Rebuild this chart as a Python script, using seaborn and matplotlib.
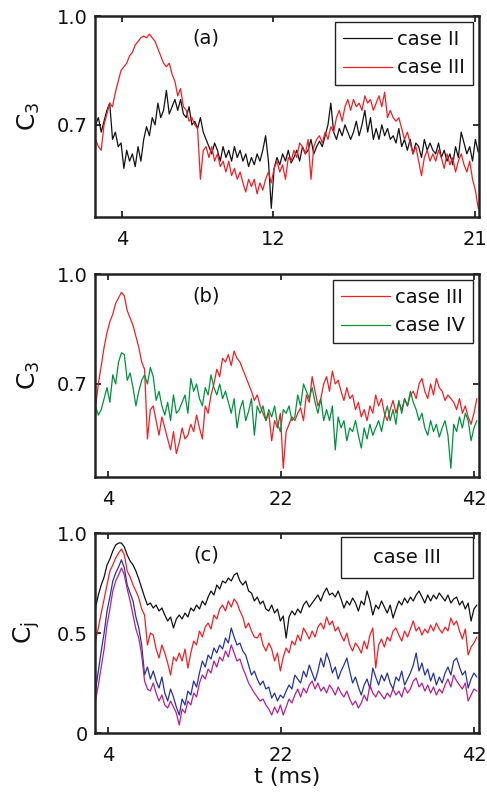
import numpy as np
import pandas as pd
import matplotlib
matplotlib.use("Agg")
import matplotlib.pyplot as plt
from matplotlib.patches import Rectangle
import seaborn as sns

# ---------------- data ----------------
# panel (a): sampled every 0.15 ms starting at 2.6 ms
T0_A, DT_A = 2.6, 0.15
a_case2 = [0.70, 0.72, 0.68, 0.71, 0.74, 0.76, 0.66, 0.68, 0.64, 0.65,
           0.58, 0.63, 0.60, 0.62, 0.585, 0.64, 0.60, 0.66, 0.695, 0.67,
           0.72, 0.70, 0.76, 0.72, 0.74, 0.795, 0.73, 0.75, 0.77, 0.74,
           0.77, 0.73, 0.72, 0.75, 0.70, 0.71, 0.69, 0.72, 0.68, 0.66,
           0.64, 0.62, 0.65, 0.63, 0.60, 0.64, 0.61, 0.63, 0.60, 0.64,
           0.61, 0.63, 0.60, 0.62, 0.585, 0.61, 0.59, 0.62, 0.60, 0.63,
           0.67, 0.60, 0.47, 0.58, 0.61, 0.59, 0.62, 0.60, 0.63, 0.595,
           0.61, 0.63, 0.60, 0.64, 0.62, 0.63, 0.66, 0.62, 0.64, 0.655,
           0.64, 0.67, 0.70, 0.76, 0.68, 0.66, 0.69, 0.67, 0.70, 0.68,
           0.66, 0.68, 0.71, 0.67, 0.70, 0.74, 0.68, 0.72, 0.66, 0.69,
           0.66, 0.70, 0.67, 0.69, 0.66, 0.67, 0.65, 0.69, 0.64, 0.66,
           0.63, 0.66, 0.62, 0.65, 0.64, 0.61, 0.66, 0.63, 0.65, 0.63,
           0.62, 0.65, 0.61, 0.63, 0.60, 0.62, 0.59, 0.64, 0.61, 0.68,
           0.65, 0.62, 0.64, 0.60, 0.66, 0.625]
a_case3 = [0.66, 0.64, 0.63, 0.70, 0.73, 0.76, 0.75, 0.79, 0.82, 0.85,
           0.86, 0.87, 0.89, 0.90, 0.92, 0.93, 0.94, 0.945, 0.94, 0.95,
           0.94, 0.93, 0.91, 0.89, 0.87, 0.86, 0.87, 0.84, 0.82, 0.78,
           0.80, 0.75, 0.74, 0.71, 0.72, 0.70, 0.69, 0.55, 0.63, 0.64,
           0.61, 0.64, 0.60, 0.62, 0.585, 0.60, 0.57, 0.60, 0.56, 0.58,
           0.55, 0.57, 0.54, 0.515, 0.55, 0.53, 0.55, 0.51, 0.54, 0.52,
           0.55, 0.57, 0.54, 0.58, 0.60, 0.57, 0.59, 0.55, 0.61, 0.60,
           0.63, 0.61, 0.65, 0.64, 0.62, 0.66, 0.55, 0.64, 0.66, 0.67,
           0.65, 0.68, 0.66, 0.695, 0.68, 0.72, 0.74, 0.71, 0.75, 0.77,
           0.74, 0.77, 0.75, 0.76, 0.74, 0.78, 0.76, 0.77, 0.74, 0.76,
           0.78, 0.75, 0.79, 0.72, 0.74, 0.72, 0.71, 0.72, 0.69, 0.66,
           0.68, 0.65, 0.62, 0.64, 0.60, 0.56, 0.61, 0.63, 0.60, 0.62,
           0.60, 0.63, 0.61, 0.58, 0.62, 0.59, 0.61, 0.57, 0.60, 0.62,
           0.59, 0.57, 0.60, 0.55, 0.52, 0.47]

# panels (b) and (c): sampled every 0.3 ms starting at 2.7 ms
T0_B, DT_B = 2.7, 0.3
b_case3 = [0.635, 0.70, 0.75, 0.80, 0.84, 0.87, 0.89, 0.92, 0.935, 0.95,
           0.94, 0.90, 0.88, 0.86, 0.83, 0.80, 0.76, 0.74, 0.55, 0.63,
           0.64, 0.60, 0.56, 0.61, 0.58, 0.55, 0.52, 0.57, 0.51, 0.54,
           0.58, 0.55, 0.56, 0.59, 0.57, 0.615, 0.58, 0.55, 0.64, 0.62,
           0.67, 0.70, 0.74, 0.72, 0.77, 0.76, 0.78, 0.75, 0.79, 0.77,
           0.76, 0.74, 0.72, 0.70, 0.68, 0.655, 0.67, 0.64, 0.62, 0.60,
           0.62, 0.545, 0.60, 0.58, 0.62, 0.47, 0.57, 0.59, 0.61, 0.60,
           0.62, 0.635, 0.60, 0.67, 0.65, 0.72, 0.68, 0.64, 0.66, 0.70,
           0.72, 0.68, 0.735, 0.70, 0.71, 0.68, 0.655, 0.69, 0.66, 0.67,
           0.63, 0.65, 0.61, 0.63, 0.60, 0.64, 0.62, 0.67, 0.64, 0.66,
           0.62, 0.60, 0.63, 0.655, 0.62, 0.65, 0.63, 0.66, 0.64, 0.67,
           0.68, 0.66, 0.70, 0.715, 0.68, 0.66, 0.70, 0.67, 0.715, 0.69,
           0.68, 0.655, 0.67, 0.66, 0.65, 0.63, 0.66, 0.62, 0.64, 0.61,
           0.59, 0.62, 0.66]
b_case4 = [0.64, 0.615, 0.63, 0.66, 0.69, 0.65, 0.725, 0.70, 0.76, 0.785,
           0.78, 0.71, 0.73, 0.69, 0.64, 0.68, 0.71, 0.725, 0.70, 0.745,
           0.72, 0.655, 0.68, 0.64, 0.615, 0.65, 0.60, 0.67, 0.62, 0.63,
           0.65, 0.67, 0.62, 0.715, 0.68, 0.70, 0.66, 0.64, 0.69, 0.67,
           0.725, 0.69, 0.67, 0.70, 0.66, 0.68, 0.65, 0.62, 0.66, 0.58,
           0.63, 0.655, 0.60, 0.625, 0.66, 0.56, 0.64, 0.62, 0.64, 0.60,
           0.63, 0.61, 0.64, 0.59, 0.57, 0.63, 0.62, 0.64, 0.60, 0.61,
           0.67, 0.64, 0.70, 0.68, 0.66, 0.69, 0.65, 0.62, 0.66, 0.60,
           0.63, 0.60, 0.64, 0.52, 0.61, 0.58, 0.60, 0.545, 0.58, 0.57,
           0.60, 0.56, 0.525, 0.58, 0.55, 0.59, 0.56, 0.58, 0.60, 0.57,
           0.61, 0.64, 0.60, 0.63, 0.59, 0.655, 0.62, 0.66, 0.64, 0.68,
           0.65, 0.63, 0.60, 0.62, 0.58, 0.56, 0.60, 0.57, 0.59, 0.555,
           0.58, 0.60, 0.56, 0.47, 0.59, 0.57, 0.61, 0.58, 0.62, 0.60,
           0.545, 0.58, 0.60]

c_black = [0.625, 0.69, 0.74, 0.78, 0.84, 0.87, 0.91, 0.94, 0.95, 0.95,
           0.93, 0.89, 0.86, 0.84, 0.81, 0.77, 0.725, 0.68, 0.64, 0.65,
           0.625, 0.64, 0.61, 0.625, 0.59, 0.56, 0.58, 0.525, 0.57, 0.59,
           0.57, 0.60, 0.58, 0.625, 0.61, 0.64, 0.62, 0.66, 0.64, 0.68,
           0.71, 0.69, 0.74, 0.72, 0.76, 0.75, 0.775, 0.76, 0.79, 0.80,
           0.76, 0.74, 0.76, 0.71, 0.70, 0.66, 0.68, 0.645, 0.66, 0.62,
           0.61, 0.64, 0.60, 0.62, 0.56, 0.585, 0.475, 0.58, 0.61, 0.59,
           0.62, 0.60, 0.64, 0.66, 0.63, 0.65, 0.67, 0.69, 0.66, 0.70,
           0.725, 0.69, 0.70, 0.68, 0.71, 0.67, 0.625, 0.66, 0.64, 0.675,
           0.65, 0.61, 0.66, 0.64, 0.71, 0.66, 0.59, 0.64, 0.62, 0.66,
           0.63, 0.60, 0.64, 0.575, 0.62, 0.66, 0.64, 0.675, 0.65, 0.68,
           0.66, 0.69, 0.71, 0.68, 0.65, 0.69, 0.66, 0.69, 0.67, 0.70,
           0.68, 0.66, 0.69, 0.65, 0.67, 0.68, 0.64, 0.66, 0.62, 0.65,
           0.56, 0.62, 0.64]
c_red = [0.46, 0.525, 0.60, 0.67, 0.74, 0.81, 0.84, 0.875, 0.90, 0.92,
         0.89, 0.81, 0.78, 0.74, 0.71, 0.675, 0.62, 0.59, 0.44, 0.50,
         0.49, 0.42, 0.375, 0.44, 0.40, 0.35, 0.29, 0.38, 0.36, 0.40,
         0.36, 0.42, 0.325, 0.40, 0.46, 0.44, 0.51, 0.48, 0.53, 0.55,
         0.52, 0.59, 0.57, 0.62, 0.64, 0.61, 0.66, 0.63, 0.67, 0.65,
         0.61, 0.58, 0.525, 0.55, 0.51, 0.48, 0.475, 0.50, 0.44, 0.41,
         0.45, 0.42, 0.36, 0.40, 0.31, 0.38, 0.425, 0.40, 0.46, 0.44,
         0.49, 0.46, 0.525, 0.50, 0.47, 0.51, 0.48, 0.53, 0.55, 0.52,
         0.58, 0.54, 0.56, 0.51, 0.53, 0.49, 0.46, 0.50, 0.44, 0.41,
         0.45, 0.43, 0.40, 0.46, 0.42, 0.49, 0.525, 0.325, 0.44, 0.47,
         0.43, 0.48, 0.46, 0.51, 0.525, 0.49, 0.46, 0.51, 0.48, 0.52,
         0.56, 0.51, 0.53, 0.49, 0.52, 0.50, 0.54, 0.51, 0.55, 0.52,
         0.50, 0.53, 0.51, 0.575, 0.54, 0.56, 0.51, 0.47, 0.52, 0.39,
         0.43, 0.45, 0.48]
c_blue = [0.21, 0.31, 0.41, 0.50, 0.61, 0.68, 0.76, 0.80, 0.83, 0.866,
          0.825, 0.74, 0.70, 0.66, 0.58, 0.525, 0.44, 0.29, 0.33, 0.27,
          0.31, 0.26, 0.225, 0.28, 0.20, 0.16, 0.22, 0.18, 0.13, 0.09,
          0.17, 0.14, 0.21, 0.19, 0.26, 0.23, 0.30, 0.36, 0.33, 0.39,
          0.37, 0.425, 0.40, 0.44, 0.42, 0.475, 0.45, 0.525, 0.48, 0.44,
          0.45, 0.41, 0.39, 0.34, 0.29, 0.31, 0.27, 0.24, 0.26, 0.22,
          0.23, 0.175, 0.20, 0.16, 0.19, 0.175, 0.21, 0.24, 0.22, 0.29,
          0.27, 0.25, 0.31, 0.28, 0.34, 0.30, 0.26, 0.31, 0.375, 0.33,
          0.40, 0.36, 0.30, 0.33, 0.27, 0.31, 0.34, 0.375, 0.31, 0.25,
          0.28, 0.23, 0.19, 0.24, 0.27, 0.22, 0.325, 0.28, 0.24, 0.29,
          0.26, 0.30, 0.25, 0.22, 0.28, 0.26, 0.31, 0.24, 0.27, 0.30,
          0.34, 0.40, 0.31, 0.35, 0.29, 0.32, 0.26, 0.30, 0.24, 0.28,
          0.25, 0.30, 0.33, 0.29, 0.36, 0.375, 0.33, 0.29, 0.31, 0.225,
          0.27, 0.30, 0.28]
c_magenta = [0.16, 0.24, 0.33, 0.42, 0.54, 0.62, 0.71, 0.76, 0.79, 0.825,
             0.79, 0.72, 0.66, 0.59, 0.52, 0.475, 0.39, 0.26, 0.22, 0.21,
             0.25, 0.20, 0.16, 0.19, 0.14, 0.125, 0.16, 0.13, 0.10, 0.04,
             0.12, 0.10, 0.16, 0.14, 0.20, 0.18, 0.25, 0.29, 0.27, 0.32,
             0.30, 0.36, 0.33, 0.38, 0.36, 0.41, 0.38, 0.44, 0.40, 0.36,
             0.37, 0.325, 0.29, 0.25, 0.225, 0.20, 0.18, 0.16, 0.17, 0.14,
             0.12, 0.09, 0.13, 0.10, 0.14, 0.09, 0.13, 0.17, 0.15, 0.19,
             0.22, 0.18, 0.225, 0.20, 0.24, 0.26, 0.22, 0.25, 0.21, 0.23,
             0.20, 0.24, 0.22, 0.19, 0.23, 0.20, 0.18, 0.21, 0.17, 0.14,
             0.16, 0.125, 0.15, 0.19, 0.16, 0.24, 0.20, 0.18, 0.21, 0.19,
             0.17, 0.20, 0.18, 0.22, 0.19, 0.21, 0.18, 0.23, 0.20, 0.22,
             0.26, 0.275, 0.23, 0.25, 0.21, 0.24, 0.20, 0.23, 0.19, 0.22,
             0.20, 0.24, 0.27, 0.23, 0.29, 0.26, 0.24, 0.22, 0.25, 0.16,
             0.19, 0.22, 0.21]

ticks_a = [4, 12, 22.7]
ticklabels_a = ["4", "12", "21"]
ticks_bc = [4, 22, 42]
ticklabels_bc = ["4", "22", "42"]

# ---------------- style ----------------
sns.set_style("ticks")
plt.rcParams["font.family"] = ["DejaVu Sans"]
plt.rcParams["mathtext.fontset"] = "dejavusans"
plt.rcParams["mathtext.default"] = "regular"
plt.rcParams["text.color"] = "#111111"
plt.rcParams["axes.labelcolor"] = "#111111"
plt.rcParams["xtick.color"] = "#111111"
plt.rcParams["ytick.color"] = "#111111"

BLACK = "#111111"
RED = "#ee2026"
GREEN = "#00913f"
BLUE = "#25349a"
MAGENTA = "#b3208f"
LW = 0.9
FS = 14

fig = plt.figure(figsize=(4.87, 7.94), dpi=100)
ax_a = fig.add_axes([0.195, 0.7267, 0.7885, 0.2531])
ax_b = fig.add_axes([0.195, 0.3992, 0.7885, 0.2557])
ax_c = fig.add_axes([0.195, 0.0768, 0.7885, 0.2519])


def tgrid(t0, dt, n):
    return t0 + dt * np.arange(n)


ta = tgrid(T0_A, DT_A, len(a_case2))
tb = tgrid(T0_B, DT_B, len(b_case3))

sns.lineplot(x=ta, y=a_case2, ax=ax_a, color=BLACK, lw=LW, label="case II")
sns.lineplot(x=ta, y=a_case3, ax=ax_a, color=RED, lw=LW, label="case III")

sns.lineplot(x=tb, y=b_case3, ax=ax_b, color=RED, lw=LW, label="case III")
sns.lineplot(x=tb, y=b_case4, ax=ax_b, color=GREEN, lw=LW, label="case IV")

sns.lineplot(x=tb, y=c_black, ax=ax_c, color=BLACK, lw=LW, legend=False)
sns.lineplot(x=tb, y=c_red, ax=ax_c, color=RED, lw=LW, legend=False)
sns.lineplot(x=tb, y=c_blue, ax=ax_c, color=BLUE, lw=LW, legend=False)
sns.lineplot(x=tb, y=c_magenta, ax=ax_c, color=MAGENTA, lw=LW, legend=False)

for ax in (ax_a, ax_b, ax_c):
    for s in ax.spines.values():
        s.set_linewidth(1.8)
        s.set_color("#222222")
    ax.tick_params(direction="in", top=True, right=True, length=4, width=1.2,
                   labelsize=FS)
    ax.tick_params(axis="x", pad=9)
    ax.tick_params(axis="y", pad=5)

ax_a.set_xlim(2.57, 22.89)
ax_a.set_xticks(ticks_a)
ax_a.set_xticklabels(ticklabels_a)
ax_b.set_xlim(2.65, 42.52)
ax_c.set_xlim(2.65, 42.52)
for ax in (ax_b, ax_c):
    ax.set_xticks(ticks_bc)
    ax.set_xticklabels(ticklabels_bc)

for ax in (ax_a, ax_b):
    ax.set_ylim(0.446, 1.0)
    ax.set_yticks([0.7, 1.0])
    ax.set_yticklabels(["0.7", "1.0"])
    ax.set_ylabel("C$_3$", fontsize=18, labelpad=11)

ax_c.set_ylim(0, 1.0)
ax_c.set_yticks([0, 0.5, 1.0])
ax_c.set_yticklabels(["0", "0.5", "1.0"])
ax_c.set_ylabel("C$_j$", fontsize=18, labelpad=11)
ax_c.set_xlabel("t (ms)", fontsize=16, labelpad=2)

for ax, lab in ((ax_a, "(a)"), (ax_b, "(b)"), (ax_c, "(c)")):
    ax.text(0.29, 0.89, lab, transform=ax.transAxes, ha="center", va="center",
            fontsize=FS)

for ax in (ax_a, ax_b):
    leg = ax.legend(loc="upper right", fontsize=FS, frameon=True, fancybox=False,
                    framealpha=1, edgecolor="#222222", borderaxespad=0.3,
                    handlelength=2.5, handletextpad=0.3, borderpad=0.4,
                    labelspacing=0.5)
    leg.get_frame().set_linewidth(1.0)

ax_c.add_patch(Rectangle((0.641, 0.775), 0.343, 0.205, transform=ax_c.transAxes,
                         facecolor="white", edgecolor="#222222", lw=1.0, zorder=5))
ax_c.text(0.8125, 0.88, "case III", transform=ax_c.transAxes, ha="center",
          va="center", fontsize=FS, zorder=6)

fig.savefig("out.png", dpi=100)
